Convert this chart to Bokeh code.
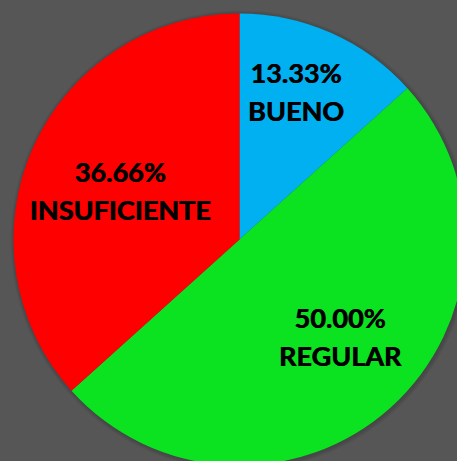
import math
from bokeh.plotting import figure
from bokeh.models import Range1d, ColumnDataSource
from bokeh.core.properties import value
from bokeh.embed import file_html
from bokeh.resources import INLINE

# ---- data ----
categories = ["BUENO", "REGULAR", "INSUFICIENTE"]
percents = [13.33, 50.00, 36.66]
colors = ["#00B0F0", "#0BE321", "#FF0000"]

# ---- layout (pixels) ----
W, H = 457, 461
CX, CY = 239, H - 239
R = 226
label_r_frac = [0.70, 0.62, 0.57]
label_ang_off = [3.0, 4.0, 1.6]   # degrees
BG = "#565656"

total = sum(percents)
starts, ends, lx, ly = [], [], [], []
cum = 0.0
for i, v in enumerate(percents):
    a0 = math.pi / 2 - 2 * math.pi * cum / total
    cum += v
    a1 = math.pi / 2 - 2 * math.pi * cum / total
    starts.append(a0)
    ends.append(a1)
    mid = (a0 + a1) / 2 + math.radians(label_ang_off[i])
    lx.append(CX + R * label_r_frac[i] * math.cos(mid))
    ly.append(CY + R * label_r_frac[i] * math.sin(mid))

src = ColumnDataSource(dict(
    cat=categories,
    pct=[f"{v:.2f}%" for v in percents],
    start=starts, end=ends, color=colors, lx=lx, ly=ly,
))

p = figure(width=W, height=H, output_backend="svg", toolbar_location=None,
           x_range=Range1d(0, W), y_range=Range1d(0, H), min_border=0)
p.axis.visible = False
p.grid.visible = False
p.outline_line_color = None
p.background_fill_color = BG
p.border_fill_color = BG

# soft shadow
for k in range(1, 5):
    p.circle(x=[CX + 1], y=[CY - 1], radius=R + k, fill_color="black",
             fill_alpha=0.04, line_color=None)

p.wedge(x=CX, y=CY, radius=R, start_angle="start", end_angle="end",
        direction="clock", fill_color="color", line_color=None, source=src)

common = dict(text_font=value("Lato"), text_font_style="bold",
              text_font_size="27px", text_color="black",
              text_align="center", text_baseline="middle", source=src)
# draw twice with a sub-pixel shift for a heavier stroke
for dx in (-0.35, 0.35):
    p.text(x="lx", y="ly", text="pct", y_offset=-19, x_offset=dx, **common)
    p.text(x="lx", y="ly", text="cat", y_offset=19, x_offset=dx, **common)

template = """{% block preamble %}<style>html, body { background: #565656; overflow: hidden; }</style>{% endblock %}"""

open("out.html", "w").write(file_html(p, INLINE, template=template))
